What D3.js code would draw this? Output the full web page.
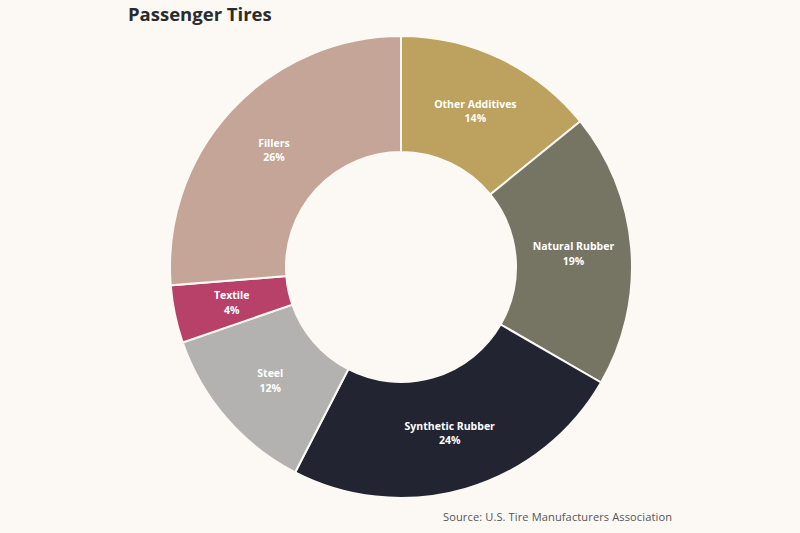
<!DOCTYPE html>
<html><head><meta charset="utf-8">
<script src="https://cdn.jsdelivr.net/npm/d3@7"></script>
<style>
html,body{margin:0;padding:0;background:#fcf9f5;}
svg{display:block;font-family:"Open Sans","Noto Sans",sans-serif;}
</style></head>
<body>
<svg id="chart" width="800" height="533"></svg>
<script>
const categories = ["Other Additives","Natural Rubber","Synthetic Rubber","Steel","Textile","Fillers"];
const values = [14,19,24,12,4,26];
const colors = ["#bda15e","#767463","#222431","#b3b2b0","#b8416a","#c4a597"];

const svg = d3.select("#chart");
svg.append("rect").attr("width",800).attr("height",533).attr("fill","#fcf9f5");
svg.append("text").attr("x",128).attr("y",21).attr("font-size",18.5).attr("font-weight",700)
  .attr("fill","#2b2b2b").text("Passenger Tires");
svg.append("text").attr("x",443).attr("y",521).attr("font-size",11.1).attr("fill","#555")
  .attr("textLength",229).attr("lengthAdjust","spacing")
  .text("Source: U.S. Tire Manufacturers Association");

const data = categories.map((c,i)=>({cat:c,val:values[i],color:colors[i]}));
const pie = d3.pie().value(d=>d.val).sort(null);
const arc = d3.arc().innerRadius(115).outerRadius(231);
const g = svg.append("g").attr("transform","translate(401,267)");
const arcs = pie(data);
g.selectAll("path").data(arcs).join("path")
  .attr("d",arc).attr("fill",d=>d.data.color)
  .attr("stroke","#fcf9f5").attr("stroke-width",2);
const lab = g.selectAll("g.lab").data(arcs).join("g").attr("class","lab")
  .attr("transform",d=>`translate(${arc.centroid(d)})`);
lab.append("text").attr("text-anchor","middle").attr("y",-3)
  .attr("font-size",10.5).attr("font-weight",700).attr("fill","#fff").text(d=>d.data.cat);
lab.append("text").attr("text-anchor","middle").attr("y",11.5)
  .attr("font-size",10.5).attr("font-weight",700).attr("fill","#fff").text(d=>d.data.val+"%");
</script>
</body></html>
